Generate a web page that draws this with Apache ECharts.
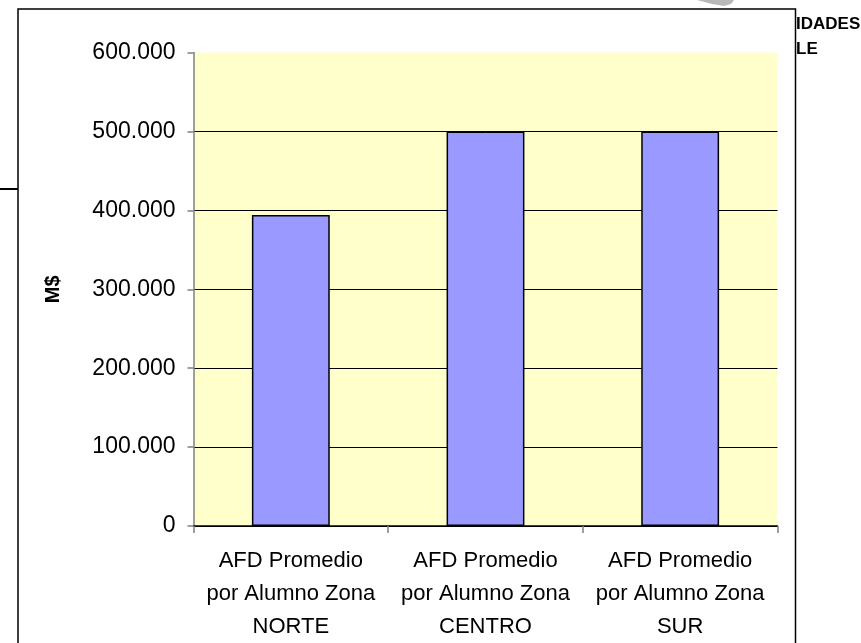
<!DOCTYPE html>
<html>
<head>
<meta charset="utf-8">
<script src="https://cdn.jsdelivr.net/npm/echarts@6/dist/echarts.min.js"></script>
<style>
html,body{margin:0;padding:0;background:#fff;}
#c{width:861px;height:643px;}
</style>
</head>
<body>
<div id="c"></div>
<script>
var categories = [
  'AFD Promedio\npor Alumno Zona\nNORTE',
  'AFD Promedio\npor Alumno Zona\nCENTRO',
  'AFD Promedio\npor Alumno Zona\nSUR'
];
var values = [394000, 500000, 500000];
var yAxisName = 'M$';
var sideTexts = ['IDADES', 'LE'];

var chart = echarts.init(document.getElementById('c'), null, {renderer: 'canvas'});
var font = '"Liberation Sans", Arial, sans-serif';
chart.setOption({
  backgroundColor: '#ffffff',
  animation: false,
  grid: {
    left: 193.5, right: 83.5, top: 52.5, bottom: 109.5,
    show: true, backgroundColor: '#FFFFCC', borderWidth: 0
  },
  xAxis: {
    type: 'category',
    data: categories,
    axisLine: {show: true, lineStyle: {color: '#000', width: 1.5}},
    axisTick: {show: true, alignWithLabel: false, length: 7, lineStyle: {color: '#808080', width: 1.5}},
    axisLabel: {
      color: '#000', fontFamily: font, fontSize: 22, lineHeight: 33,
      margin: 18, interval: 0
    },
    splitLine: {show: false}
  },
  yAxis: {
    type: 'value',
    min: 0, max: 600000, interval: 100000,
    name: yAxisName,
    nameLocation: 'middle',
    nameRotate: 90,
    nameGap: 130,
    nameTextStyle: {color: '#000', fontFamily: font, fontSize: 20, fontWeight: 'bold'},
    axisLine: {show: true, lineStyle: {color: '#808080', width: 1.5}},
    axisTick: {show: true, length: 6, lineStyle: {color: '#808080', width: 1.5}},
    axisLabel: {
      color: '#000', fontFamily: font, fontSize: 23, margin: 18,
      formatter: function (v) {
        return String(v).replace(/\B(?=(\d{3})+(?!\d))/g, '.');
      }
    },
    splitLine: {show: true, lineStyle: {color: ['#000', '#000', '#000', '#000', '#000', '#000', 'rgba(0,0,0,0)'], width: 1}}
  },
  series: [{
    type: 'bar',
    data: values,
    barCategoryGap: '60%',
    itemStyle: {color: '#9999FF', borderColor: '#000', borderWidth: 1.5}
  }],
  graphic: [
    {type: 'rect', shape: {x: 18, y: 9, width: 777.5, height: 700}, style: {fill: 'none', stroke: '#000', lineWidth: 1.5}, z: 10},
    {type: 'line', shape: {x1: 0, y1: 189, x2: 18, y2: 189}, style: {stroke: '#000', lineWidth: 2}, z: 10},
    {type: 'polygon', shape: {points: [[697, 0], [734, 0], [731, 4], [724, 6], [712, 4]]}, style: {fill: '#b8b8b8'}, z: 10},
    {type: 'text', left: 796, top: 16, style: {text: sideTexts[0], fill: '#000', font: 'bold 17px "Liberation Sans", Arial, sans-serif'}, z: 10},
    {type: 'text', left: 796, top: 41, style: {text: sideTexts[1], fill: '#000', font: 'bold 17px "Liberation Sans", Arial, sans-serif'}, z: 10}
  ]
});
</script>
</body>
</html>
